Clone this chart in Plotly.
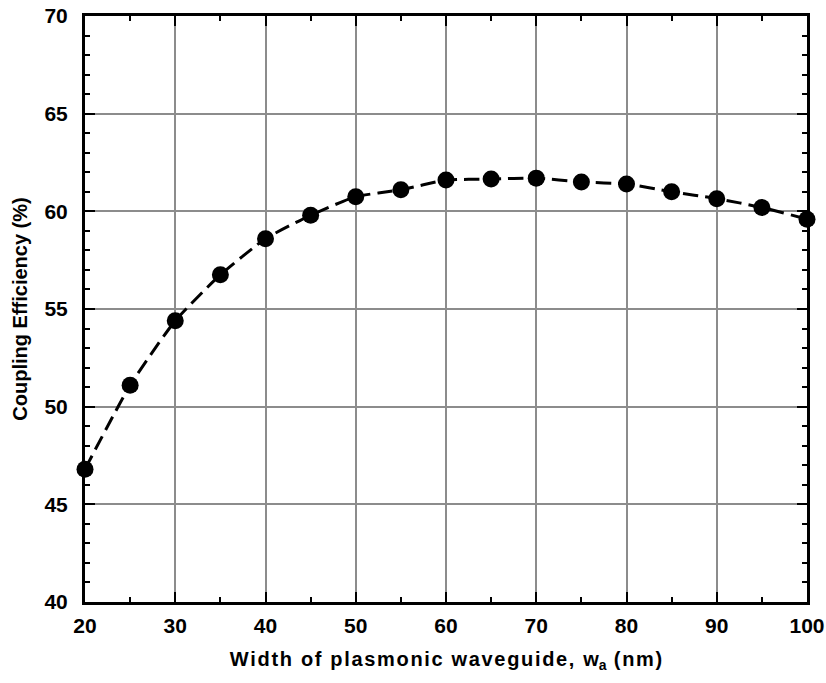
import plotly.graph_objects as go

width_nm = [20, 25, 30, 35, 40, 45, 50, 55, 60, 65, 70, 75, 80, 85, 90, 95, 100]
efficiency = [46.8, 51.1, 54.4, 56.75, 58.6, 59.8, 60.75, 61.1, 61.6, 61.65, 61.7, 61.5, 61.4, 61.0, 60.65, 60.2, 59.6]

x_ticks = [20, 30, 40, 50, 60, 70, 80, 90, 100]
y_ticks = [40, 45, 50, 55, 60, 65, 70]

HS = "\u200a"
def spaced(s):
    return HS.join(s)

fig = go.Figure()
fig.add_trace(go.Scatter(
    x=width_nm, y=efficiency, mode="lines+markers",
    line=dict(color="black", width=3, dash="15px,7px", shape="spline", smoothing=0.5),
    marker=dict(color="black", size=17, symbol="circle"),
    cliponaxis=False, showlegend=False,
))

font_family = "Liberation Sans, Arial, sans-serif"
xtitle = ("<b>" + spaced("Width of plasmonic waveguide, w") + "<sub>a</sub>"
          + HS + " " + spaced("(nm)") + "</b>")
fig.update_layout(
    width=826, height=683,
    margin=dict(l=85, r=19, t=16, b=81),
    paper_bgcolor="white", plot_bgcolor="white",
    font=dict(family=font_family, size=20, color="black"),
    xaxis=dict(
        range=[20, 100], tickvals=x_ticks, ticktext=[f"<b>{v}</b>" for v in x_ticks],
        tickfont=dict(size=21), automargin=False,
        showline=True, linecolor="black", linewidth=3, mirror="ticks",
        ticks="inside", ticklen=10, tickwidth=2, tickcolor="black",
        minor=dict(ticks="inside", dtick=5, tick0=20, ticklen=5, tickwidth=2, tickcolor="black", showgrid=False),
        showgrid=True, gridcolor="#8c8c8c", gridwidth=1.5,
        zeroline=False, ticklabelstandoff=3,
        title=dict(text=xtitle, font=dict(size=20), standoff=16),
    ),
    yaxis=dict(
        range=[40, 70], tickvals=y_ticks, ticktext=[f"<b>{v}</b>" for v in y_ticks],
        tickfont=dict(size=21), automargin=False,
        showline=True, linecolor="black", linewidth=3, mirror="ticks",
        ticks="inside", ticklen=10, tickwidth=2, tickcolor="black",
        minor=dict(ticks="inside", dtick=1, tick0=40, ticklen=5, tickwidth=2, tickcolor="black", showgrid=False),
        showgrid=True, gridcolor="#8c8c8c", gridwidth=1.5,
        zeroline=False, ticklabelstandoff=10,
        title=dict(text="<b>Coupling Efficiency (%)</b>", font=dict(size=20), standoff=12),
    ),
)

fig.write_html("out.html")
